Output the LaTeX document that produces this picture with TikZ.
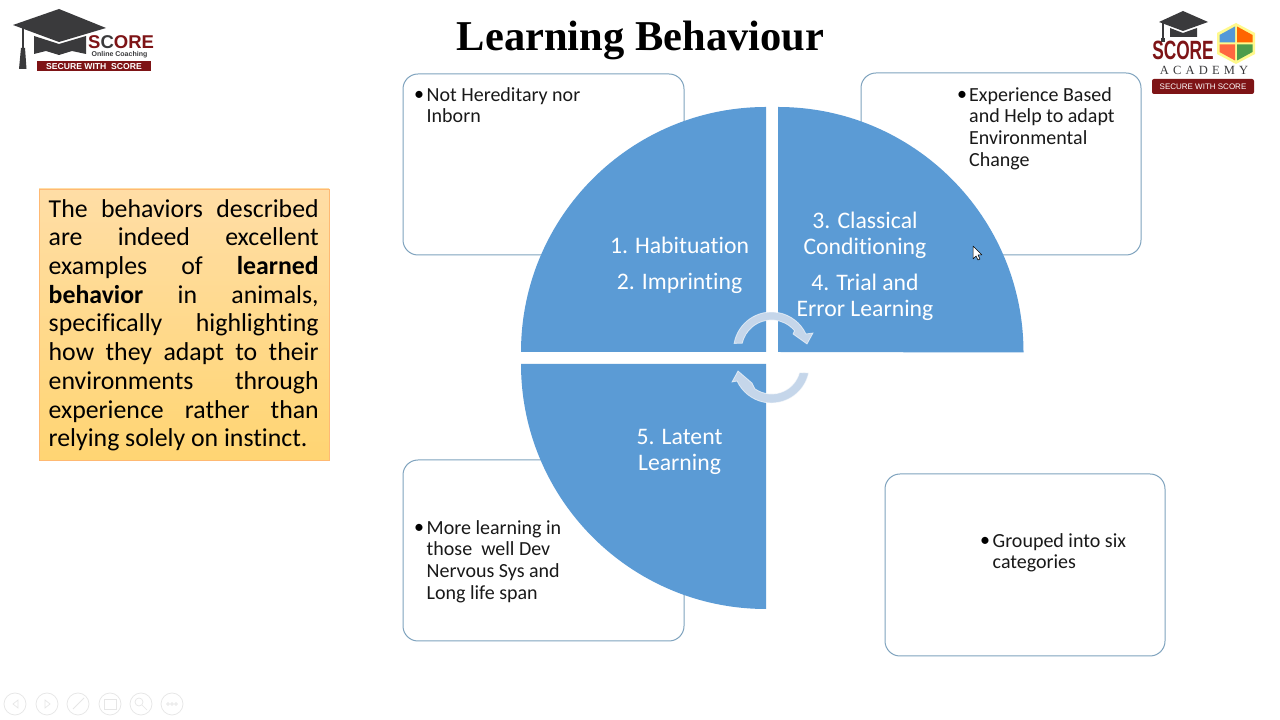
\documentclass[tikz,border=0pt]{standalone}
\usepackage{fontspec}
\setmainfont[Ligatures=NoCommon]{Carlito}
\newfontfamily\titlefont{Liberation Serif}
\newfontfamily\logofont{Liberation Sans}
\usetikzlibrary{calc}
\definecolor{qblue}{HTML}{5B9BD5}
\definecolor{boxedge}{HTML}{7FA3BE}
\definecolor{arrowc}{HTML}{C5D6EA}
\definecolor{logored}{HTML}{7E1416}
\definecolor{hatgrey}{HTML}{3A3A3C}
\definecolor{navc}{HTML}{E6E6E6}
\tikzset{
  x=1pt,y=1pt,
  quarter/.style={fill=qblue,draw=none},
  roundbox/.style={draw=boxedge,line width=1pt,fill=white,rounded corners=15pt},
  bullettext/.style={anchor=north west,inner sep=0pt,align=left,text=black!90,font=\fontsize{20}{21.9}\selectfont},
  bulletdot/.style={anchor=base,inner sep=0pt,text=black,font=\fontsize{20}{21.9}\selectfont},
  qlabel/.style={anchor=center,inner sep=0pt,align=center,text=white,font=\fontsize{23.7}{25.8}\selectfont},
  rotarrow/.style={fill=arrowc,draw=white,draw opacity=0.6,line width=0.8pt},
  navring/.style={draw=navc,line width=0.7pt,fill=none},
}
\begin{document}
\begin{tikzpicture}
\useasboundingbox (0,0) rectangle (1280,720);
\fill[white] (0,0) rectangle (1280,720);

% title
\node[anchor=base,inner sep=0pt,font=\titlefont\bfseries\fontsize{42.5}{44}\selectfont] (title) at (640.5,669) {Learning Behaviour};

% left box
\shade[top color=yellow!25!orange!35!white,bottom color=orange!60!yellow!55!white,draw=orange!55!white,line width=0.6pt] (39,260) rectangle (329,531);
\node[anchor=north west,inner sep=0pt,text width=270pt,align=justify,font=\fontsize{25.8}{28.7}\selectfont] (lefttext) at (48.5,521) {%
The behaviors described\linebreak
are indeed excellent\linebreak
examples of \textbf{learned}\linebreak
\textbf{behavior} in animals,\linebreak
specifically highlighting\linebreak
how they adapt to their\linebreak
environments through\linebreak
experience rather than\linebreak
relying solely on instinct.};

% rounded boxes
\draw[roundbox] (403,465) rectangle (684,646);
\draw[roundbox] (861,465) rectangle (1141,647);
\draw[roundbox] (403,79) rectangle (684,260);
\draw[roundbox] (885,64) rectangle (1165,246);

% quarter circles
\fill[quarter] (766,368) -- (521,368) arc[start angle=180,end angle=90,radius=245pt] -- cycle;
\fill[quarter] (778,368) -- (778,613) arc[start angle=90,end angle=0,radius=245.5pt] -- cycle;
\fill[quarter] (766,356) -- (521,356) arc[start angle=180,end angle=270,radius=245pt] -- cycle;

% quarter labels
\node[qlabel,anchor=base] (q1) at (679.5,466) {1. Habituation};
\node[qlabel,anchor=base] (q2) at (679.5,430) {2. Imprinting};
\node[qlabel] (q3) at (865,484.8) {3. Classical\\Conditioning};
\node[qlabel] (q4) at (865,422.8) {4. Trial and\\Error Learning};
\node[qlabel] (q5) at (679.5,268.3) {5. Latent\\Learning};

% bullet texts
\node[bulletdot] (b1) at (419,619) {•};
\node[bullettext] (t1) at (426.5,633) {Not Hereditary nor\\Inborn};
\node[bulletdot] (b2) at (962,619) {•};
\node[bullettext] (t2) at (969,633) {Experience Based\\and Help to adapt\\Environmental\\Change};
\node[bulletdot] (b3) at (419,186) {•};
\node[bullettext] (t3) at (426.5,200) {More learning in\\those\ \ well Dev\\Nervous Sys and\\Long life span};
\node[bulletdot] (b4) at (985,173) {•};
\node[bullettext] (t4) at (992.5,187) {Grouped into six\\categories};

% rotation arrows
\fill[rotarrow] ($(771.5,370)+(170:38)$) arc[start angle=170,end angle=25,radius=38pt]
  -- (813,387) -- (807,376) -- (793,386)
  -- ($(771.5,370)+(40:30)$) arc[start angle=40,end angle=167,radius=30pt] -- cycle;
\fill[rotarrow] ($(771.5,355)+(-12:38)$) arc[start angle=-12,end angle=-155,radius=38pt]
  -- (732,338) -- (738,349) -- (752,337)
  -- ($(771.5,355)+(-125:29)$) arc[start angle=-125,end angle=-15,radius=29pt] -- cycle;

% left logo
\fill[hatgrey] (59,711) -- (106,692) -- (59,678) -- (13,695) -- cycle;
\fill[hatgrey] (34,684) -- (59,676) -- (86,684) -- (86,666) -- (72,669) -- (59,665) -- (46,669) -- (34,666) -- cycle;
\fill[hatgrey] (21.5,693) rectangle (24,672);
\fill[hatgrey] (21,672) -- (25,672) -- (26.5,651) -- (19,651) -- cycle;
\node[anchor=base west,inner sep=0pt,text=logored,font=\logofont\bfseries\fontsize{18.5}{20}\selectfont] (sc1) at (88,671) {S\textcolor{hatgrey}{C}ORE};
\node[anchor=center,inner sep=0pt,text=hatgrey,font=\logofont\bfseries\fontsize{7}{8}\selectfont] (oc1) at (119.5,665) {Online Coaching};
\fill[logored] (37,649) rectangle (151,658.5);
\node[anchor=center,inner sep=0pt,text=white,font=\logofont\bfseries\fontsize{8.6}{9}\selectfont] (sw1) at (94,653.7) {SECURE WITH\ \ SCORE};

% right logo
\fill[hatgrey] (1183,709) -- (1208,698) -- (1183,689) -- (1159,698) -- cycle;
\fill[hatgrey] (1170,692) -- (1183,687) -- (1197,692) -- (1197,683) -- (1170,683) -- cycle;
\fill[hatgrey] (1162,697) rectangle (1164,682);
\fill[hatgrey] (1161,682) -- (1165,682) -- (1165,678) -- (1161,678) -- cycle;
\node[anchor=center,inner sep=0pt,text=logored,font=\logofont\bfseries\fontsize{24}{26}\selectfont,xscale=0.72,yscale=1.1] (sc2) at (1183,670) {SCORE};
\fill[yellow!45!white] (1236,697) -- (1255,687) -- (1255,666) -- (1236,656) -- (1217,666) -- (1217,687) -- cycle;
\fill[cyan!60!blue!70!white] (1235,693.5) -- (1235,677.5) -- (1219.5,677.5) -- (1219.5,685) -- cycle;
\fill[orange!80!red] (1237,693.5) -- (1237,677.5) -- (1252.5,677.5) -- (1252.5,685) -- cycle;
\fill[red!60!orange!75!white] (1235,675.5) -- (1235,659.5) -- (1219.5,668) -- (1219.5,675.5) -- cycle;
\fill[green!45!black!70!white] (1237,675.5) -- (1237,659.5) -- (1252.5,668) -- (1252.5,675.5) -- cycle;
\node[anchor=center,inner sep=0pt,text=hatgrey,font=\titlefont\fontsize{12.5}{13}\selectfont] (ac2) at (1204,649.5) {A\hspace{4.2pt}C\hspace{4.2pt}A\hspace{4.2pt}D\hspace{4.2pt}E\hspace{4.2pt}M\hspace{4.2pt}Y};
\fill[logored,rounded corners=2pt] (1152,626) rectangle (1254,641);
\node[anchor=center,inner sep=0pt,text=white,font=\logofont\fontsize{8}{9}\selectfont] (sw2) at (1203,633.3) {SECURE WITH SCORE};

% cursor
\draw[fill=white,draw=black,line width=0.5pt,line join=round] (973,474) -- (973,461) -- (976,464) -- (978,460) -- (980,461) -- (978,465) -- (982,465) -- cycle;

% nav icons
\foreach \cx/\n in {15/a,47/b,78/c,110/d,141/e,172/f}{
  \draw[navring] (\cx,16) circle (11);
}
\draw[navc,line width=0.7pt] (18,20) -- (13,16) -- (18,12) -- cycle;
\draw[navc,line width=0.7pt] (45,20) -- (50,16) -- (45,12) -- cycle;
\draw[navc,line width=1pt] (73,11) -- (84,22);
\draw[navc,line width=0.7pt] (104,11) rectangle (116,21);
\draw[navc,line width=0.7pt] (139,18) circle (4) (142,15) -- (147,10);
\foreach \dx in {168,172,176}{\draw[navc,line width=0.6pt] (\dx,16) circle (1.4);}
\end{tikzpicture}
\end{document}
